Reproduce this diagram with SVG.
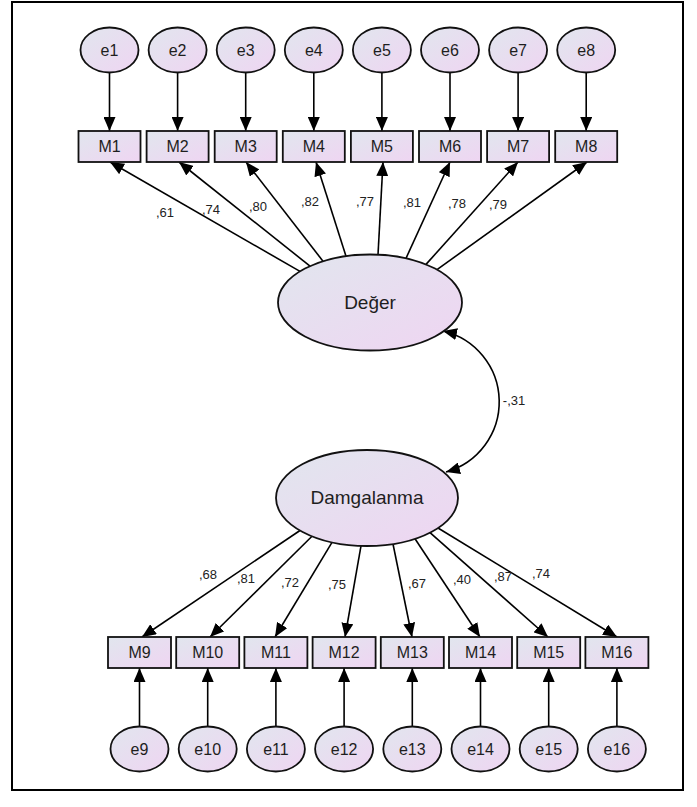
<svg xmlns="http://www.w3.org/2000/svg" width="697" height="807" viewBox="0 0 697 807">
<defs>
<linearGradient id="g" x1="0" y1="0" x2="1" y2="1">
<stop offset="0" stop-color="#e1e6ee"/>
<stop offset="1" stop-color="#efd5f2"/>
</linearGradient>
<marker id="a" markerUnits="userSpaceOnUse" markerWidth="15" markerHeight="12" refX="14" refY="6" orient="auto-start-reverse">
<path d="M0,0 L14,6 L0,12 z" fill="#000"/>
</marker>
<style>
.n{fill:url(#g);stroke:#111;stroke-width:1.8}
.t{font-family:"Liberation Sans",Arial,sans-serif;font-size:16px;fill:#1e1e1e;text-anchor:middle}
.L{font-size:19px}
.c line,.c path{stroke:#000;stroke-width:1.6;fill:none;marker-end:url(#a)}
.w{font-family:"Liberation Sans",Arial,sans-serif;font-size:13px;fill:#222;text-anchor:middle}
</style>
</defs>
<rect width="697" height="807" fill="#fff"/>
<rect x="12" y="2" width="671" height="788" fill="none" stroke="#000" stroke-width="2"/>

<g class="c" id="connectors">
<line x1="109.5" y1="72.5" x2="109.5" y2="131"/>
<line x1="177.6" y1="72.5" x2="177.6" y2="131"/>
<line x1="245.7" y1="72.5" x2="245.7" y2="131"/>
<line x1="313.8" y1="72.5" x2="313.8" y2="131"/>
<line x1="381.9" y1="72.5" x2="381.9" y2="131"/>
<line x1="450" y1="72.5" x2="450" y2="131"/>
<line x1="518.1" y1="72.5" x2="518.1" y2="131"/>
<line x1="586.2" y1="72.5" x2="586.2" y2="131"/>
<line x1="300" y1="271.4" x2="110" y2="162"/>
<line x1="310" y1="266.1" x2="179" y2="162"/>
<line x1="323" y1="261.2" x2="246" y2="162"/>
<line x1="346" y1="256.2" x2="316" y2="162"/>
<line x1="378" y1="254.7" x2="383" y2="162"/>
<line x1="406" y1="258.3" x2="450" y2="162"/>
<line x1="426" y1="264.4" x2="518" y2="162"/>
<line x1="437" y1="269.6" x2="587" y2="162"/>
<path d="M443,331 A72.8,72.8 0 0 1 446,472" style="marker-start:url(#a)"/>
<line x1="300" y1="530.5" x2="142" y2="637"/>
<line x1="312" y1="536.3" x2="210" y2="637"/>
<line x1="332" y1="542.3" x2="275" y2="637"/>
<line x1="361" y1="545.9" x2="345" y2="637"/>
<line x1="393" y1="544" x2="412" y2="637"/>
<line x1="415" y1="538.8" x2="480" y2="637"/>
<line x1="430" y1="532.7" x2="548" y2="637"/>
<line x1="438" y1="528" x2="617" y2="637"/>
<line x1="139.5" y1="727" x2="139.5" y2="668"/>
<line x1="207.7" y1="727" x2="207.7" y2="668"/>
<line x1="275.9" y1="727" x2="275.9" y2="668"/>
<line x1="344.1" y1="727" x2="344.1" y2="668"/>
<line x1="412.3" y1="727" x2="412.3" y2="668"/>
<line x1="480.5" y1="727" x2="480.5" y2="668"/>
<line x1="548.7" y1="727" x2="548.7" y2="668"/>
<line x1="616.9" y1="727" x2="616.9" y2="668"/>
</g>

<g id="labels">
<text class="w" x="165" y="217">,61</text>
<text class="w" x="211" y="214">,74</text>
<text class="w" x="258" y="211">,80</text>
<text class="w" x="310" y="206">,82</text>
<text class="w" x="365" y="206">,77</text>
<text class="w" x="412" y="207">,81</text>
<text class="w" x="457" y="208">,78</text>
<text class="w" x="498" y="209">,79</text>
<text class="w" x="514" y="405">-,31</text>
<text class="w" x="208" y="579">,68</text>
<text class="w" x="246" y="583">,81</text>
<text class="w" x="290" y="587">,72</text>
<text class="w" x="337" y="589">,75</text>
<text class="w" x="417" y="588">,67</text>
<text class="w" x="462" y="584">,40</text>
<text class="w" x="503" y="581">,87</text>
<text class="w" x="541" y="578">,74</text>
</g>

<g id="e1"><ellipse class="n" cx="109.5" cy="50" rx="29" ry="22.5"/><text class="t" x="109.5" y="56">e1</text></g>
<g id="e2"><ellipse class="n" cx="177.6" cy="50" rx="29" ry="22.5"/><text class="t" x="177.6" y="56">e2</text></g>
<g id="e3"><ellipse class="n" cx="245.7" cy="50" rx="29" ry="22.5"/><text class="t" x="245.7" y="56">e3</text></g>
<g id="e4"><ellipse class="n" cx="313.8" cy="50" rx="29" ry="22.5"/><text class="t" x="313.8" y="56">e4</text></g>
<g id="e5"><ellipse class="n" cx="381.9" cy="50" rx="29" ry="22.5"/><text class="t" x="381.9" y="56">e5</text></g>
<g id="e6"><ellipse class="n" cx="450" cy="50" rx="29" ry="22.5"/><text class="t" x="450" y="56">e6</text></g>
<g id="e7"><ellipse class="n" cx="518.1" cy="50" rx="29" ry="22.5"/><text class="t" x="518.1" y="56">e7</text></g>
<g id="e8"><ellipse class="n" cx="586.2" cy="50" rx="29" ry="22.5"/><text class="t" x="586.2" y="56">e8</text></g>

<g id="M1"><rect class="n" x="78.5" y="131" width="62" height="31"/><text class="t" x="109.5" y="152">M1</text></g>
<g id="M2"><rect class="n" x="146.6" y="131" width="62" height="31"/><text class="t" x="177.6" y="152">M2</text></g>
<g id="M3"><rect class="n" x="214.7" y="131" width="62" height="31"/><text class="t" x="245.7" y="152">M3</text></g>
<g id="M4"><rect class="n" x="282.8" y="131" width="62" height="31"/><text class="t" x="313.8" y="152">M4</text></g>
<g id="M5"><rect class="n" x="350.9" y="131" width="62" height="31"/><text class="t" x="381.9" y="152">M5</text></g>
<g id="M6"><rect class="n" x="419" y="131" width="62" height="31"/><text class="t" x="450" y="152">M6</text></g>
<g id="M7"><rect class="n" x="487.1" y="131" width="62" height="31"/><text class="t" x="518.1" y="152">M7</text></g>
<g id="M8"><rect class="n" x="555.2" y="131" width="62" height="31"/><text class="t" x="586.2" y="152">M8</text></g>

<g id="Deger"><ellipse class="n" cx="370" cy="302.5" rx="92" ry="48"/><text class="t L" x="370" y="309">Değer</text></g>
<g id="Damgalanma"><ellipse class="n" cx="367" cy="498" rx="91" ry="48"/><text class="t L" x="367" y="504">Damgalanma</text></g>

<g id="M9"><rect class="n" x="108" y="637" width="63" height="31"/><text class="t" x="139.5" y="658">M9</text></g>
<g id="M10"><rect class="n" x="176.2" y="637" width="63" height="31"/><text class="t" x="207.7" y="658">M10</text></g>
<g id="M11"><rect class="n" x="244.4" y="637" width="63" height="31"/><text class="t" x="275.9" y="658">M11</text></g>
<g id="M12"><rect class="n" x="312.6" y="637" width="63" height="31"/><text class="t" x="344.1" y="658">M12</text></g>
<g id="M13"><rect class="n" x="380.8" y="637" width="63" height="31"/><text class="t" x="412.3" y="658">M13</text></g>
<g id="M14"><rect class="n" x="449" y="637" width="63" height="31"/><text class="t" x="480.5" y="658">M14</text></g>
<g id="M15"><rect class="n" x="517.2" y="637" width="63" height="31"/><text class="t" x="548.7" y="658">M15</text></g>
<g id="M16"><rect class="n" x="585.4" y="637" width="63" height="31"/><text class="t" x="616.9" y="658">M16</text></g>

<g id="e9"><ellipse class="n" cx="139.5" cy="749" rx="29" ry="22.5"/><text class="t" x="139.5" y="755">e9</text></g>
<g id="e10"><ellipse class="n" cx="207.7" cy="749" rx="29" ry="22.5"/><text class="t" x="207.7" y="755">e10</text></g>
<g id="e11"><ellipse class="n" cx="275.9" cy="749" rx="29" ry="22.5"/><text class="t" x="275.9" y="755">e11</text></g>
<g id="e12"><ellipse class="n" cx="344.1" cy="749" rx="29" ry="22.5"/><text class="t" x="344.1" y="755">e12</text></g>
<g id="e13"><ellipse class="n" cx="412.3" cy="749" rx="29" ry="22.5"/><text class="t" x="412.3" y="755">e13</text></g>
<g id="e14"><ellipse class="n" cx="480.5" cy="749" rx="29" ry="22.5"/><text class="t" x="480.5" y="755">e14</text></g>
<g id="e15"><ellipse class="n" cx="548.7" cy="749" rx="29" ry="22.5"/><text class="t" x="548.7" y="755">e15</text></g>
<g id="e16"><ellipse class="n" cx="616.9" cy="749" rx="29" ry="22.5"/><text class="t" x="616.9" y="755">e16</text></g>
</svg>
